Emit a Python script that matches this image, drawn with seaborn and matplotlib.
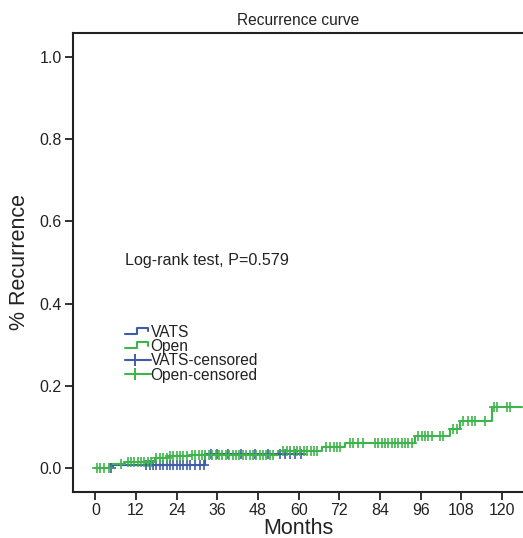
import numpy as np
import pandas as pd
import matplotlib
matplotlib.use("Agg")
import matplotlib.pyplot as plt
import seaborn as sns
from matplotlib.lines import Line2D
from matplotlib.legend_handler import HandlerBase

# ---- data ----
vats_times = [0, 5.3, 32.5, 61.5]
vats_values = [0.0, 0.008, 0.034, 0.034]
open_times = [0, 4.3, 8.7, 17.5, 21.4, 28.0, 54.0, 67.0, 73.8, 94.4, 104.7, 107.6, 117.0, 126.0]
open_values = [0.0, 0.009, 0.015, 0.024, 0.029, 0.033, 0.041, 0.052, 0.062, 0.078, 0.095, 0.115, 0.148, 0.148]

vats_censored = [4.5, 15, 16, 17, 18, 19, 20, 21, 22, 23, 24, 25, 26, 27, 28, 29.4, 30.8, 32.0,
                 34, 36, 39, 43, 47, 51, 54.4, 56, 57.4, 58.9, 60.8]
open_censored = [0.5, 1.5, 2.5, 4.0, 7.5, 9.5, 10.5, 11.5, 12.5, 13.5, 14.5, 15.5, 16.5, 18.0, 19.0,
                 20.0, 21.0, 22.0, 23.0, 24.0, 25.0, 26.0, 27.0, 28.5, 29.5, 30.5, 31.5, 32.5, 33.5,
                 34.5, 35.5, 36.5, 37.5, 38.5, 39.5, 40.5, 41.5, 42.5, 43.5, 44.5, 45.5, 46.5, 47.5,
                 48.5, 49.5, 50.5, 51.5, 52.5, 55.5, 56.5, 57.5, 58.5, 59.5, 60.5, 61.5, 62.5, 63.5,
                 64.5, 65.5, 68.0, 69.3, 70.3, 71.3, 72.3, 75.1, 76.1, 77.6, 79.1, 82.5, 83.5, 84.5,
                 85.5, 86.4, 87.4, 88.4, 89.4, 90.4, 91.4, 92.3, 93.3, 95.3, 96.3, 97.3, 98.3, 99.3,
                 101.7, 102.7, 105.6, 106.6, 108.6, 110.1, 111.1, 112.1, 115.0, 117.5, 118.5, 121.4, 122.4]

x_ticks = [0, 12, 24, 36, 48, 60, 72, 84, 96, 108, 120]
y_ticks = [0.0, 0.2, 0.4, 0.6, 0.8, 1.0]
groups = ["VATS", "Open"]
colors = {"VATS": "#3F5BAA", "Open": "#3DB54A"}
title = "Recurrence curve"
annotation = "Log-rank test, P=0.579"


def step_at(times, values, t):
    idx = np.searchsorted(times, t, side="right") - 1
    return np.asarray(values)[idx]


curves = pd.concat([
    pd.DataFrame({"t": vats_times, "v": vats_values, "group": "VATS"}),
    pd.DataFrame({"t": open_times, "v": open_values, "group": "Open"}),
])
cens = pd.concat([
    pd.DataFrame({"t": vats_censored, "v": step_at(vats_times, vats_values, vats_censored), "group": "VATS"}),
    pd.DataFrame({"t": open_censored, "v": step_at(open_times, open_values, open_censored), "group": "Open"}),
])

sns.set_style("ticks")
plt.rcParams["font.family"] = ["Liberation Sans", "DejaVu Sans"]

fig = plt.figure(figsize=(5.23, 5.38), dpi=100)
ax = fig.add_axes([73 / 523, 1 - 492 / 538, 450 / 523, 459 / 538])

for g in groups:
    sub = curves[curves.group == g]
    sns.lineplot(data=sub, x="t", y="v", color=colors[g], drawstyle="steps-post",
                 estimator=None, sort=False, lw=1.5, ax=ax, legend=False)
for g in groups:
    sub = cens[cens.group == g]
    ax.plot(sub["t"], sub["v"], linestyle="none", marker="+", markersize=7,
            markeredgewidth=1.2, color=colors[g])

ax.set_xlim(-6.6, 126.2)
ax.set_ylim(-0.058, 1.058)
ax.set_xticks(x_ticks)
ax.set_yticks(y_ticks)
ax.set_yticklabels([f"{v:.1f}" for v in y_ticks])
ax.tick_params(axis="both", direction="out", length=6, width=1.3, colors="#222222",
               labelsize=11.5, labelcolor="#222222", pad=2)
for s in ["left", "bottom", "top"]:
    ax.spines[s].set_linewidth(1.5)
    ax.spines[s].set_color("#222222")
ax.spines["right"].set_visible(False)

ax.set_xlabel("Months", fontsize=15.5, color="#222222", labelpad=0)
ax.set_ylabel("% Recurrence", fontsize=15.5, color="#222222", labelpad=7)
ax.set_title(title, fontsize=11.2, color="#222222", pad=6)

ax.text(0.1156, 0.505, annotation, transform=ax.transAxes, fontsize=11.6,
        color="#222222", ha="left", va="center")


class StepHandler(HandlerBase):
    def create_artists(self, legend, orig_handle, xdescent, ydescent, width, height, fontsize, trans):
        x0, y0 = -xdescent, -ydescent
        xs = [x0, x0 + 0.45 * width, x0 + 0.45 * width, x0 + 0.9 * width, x0 + 0.9 * width]
        ys = [y0 + 0.25 * height, y0 + 0.25 * height, y0 + 0.8 * height, y0 + 0.8 * height, y0 + 0.5 * height]
        return [Line2D(xs, ys, color=orig_handle.get_color(), lw=1.5, transform=trans)]


class CensHandler(HandlerBase):
    def create_artists(self, legend, orig_handle, xdescent, ydescent, width, height, fontsize, trans):
        x0, y0 = -xdescent, -ydescent
        ln = Line2D([x0, x0 + width], [y0 + 0.5 * height] * 2, color=orig_handle.get_color(),
                    lw=1.5, transform=trans)
        mk = Line2D([x0 + 0.4 * width], [y0 + 0.5 * height], color=orig_handle.get_color(),
                    marker="+", markersize=9, markeredgewidth=1.4, linestyle="none", transform=trans)
        return [ln, mk]


h_v = Line2D([], [], color=colors["VATS"])
h_o = Line2D([], [], color=colors["Open"])
h_vc = Line2D([0], [0], color=colors["VATS"])
h_oc = Line2D([0], [0], color=colors["Open"])
leg = ax.legend([h_v, h_o, h_vc, h_oc], ["VATS", "Open", "VATS-censored", "Open-censored"],
                handler_map={h_v: StepHandler(), h_o: StepHandler(), h_vc: CensHandler(), h_oc: CensHandler()},
                loc="upper left", bbox_to_anchor=(0.1156, 0.364), frameon=False, fontsize=11.2,
                handlelength=1.65, handletextpad=0.0, labelspacing=-0.05, borderpad=0, borderaxespad=0)
for t in leg.get_texts():
    t.set_color("#222222")

fig.savefig("out.png", dpi=100)
